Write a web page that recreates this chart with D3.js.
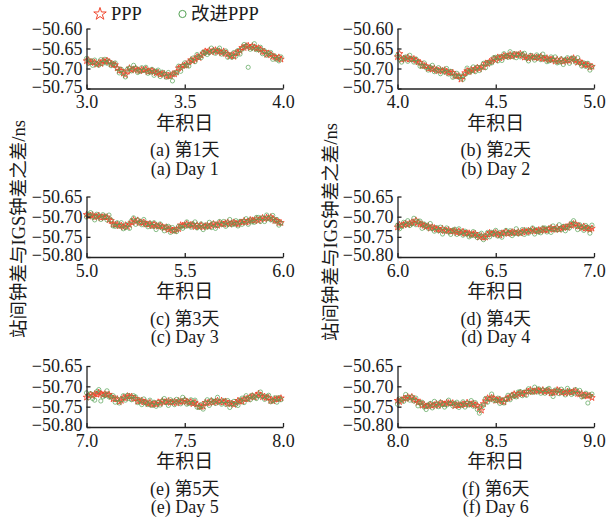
<!DOCTYPE html>
<html>
<head>
<meta charset="utf-8">
<script src="https://cdn.jsdelivr.net/npm/d3@7"></script>
<style>
  html, body { margin: 0; padding: 0; background: #ffffff; }
  svg { display: block; }
  text { font-family: "Liberation Serif", "Times New Roman", "Noto Sans CJK SC", serif; fill: #1a1a1a; }
</style>
</head>
<body>
<svg id="chart" width="607" height="522"></svg>
<script>
// Day-of-year start of each panel and panel captions
const dayStarts = [3, 4, 5, 6, 7, 8];
const captionsZh = ["(a) 第1天", "(b) 第2天", "(c) 第3天", "(d) 第4天", "(e) 第5天", "(f) 第6天"];
const captionsEn = ["(a) Day 1", "(b) Day 2", "(c) Day 3", "(d) Day 4", "(e) Day 5", "(f) Day 6"];
const xTickOffsets = [0, 0.5, 1];
const yTicksFirstRow = [-50.60, -50.65, -50.70, -50.75];
const yTicksOtherRows = [-50.65, -50.70, -50.75, -50.80];
const seriesNames = ["PPP", "改进PPP"];
const xAxisTitle = "年积日";
const yAxisTitle = "站间钟差与IGS钟差之差/ns";
const epochsPerDay = 96; // 15-minute epochs

// Clock-difference residuals (ns), one value per epoch
const pppDay1 = [-50.681,-50.679,-50.685,-50.684,-50.685,-50.690,-50.686,-50.688,-50.681,-50.683,-50.680,-50.683,
  -50.689,-50.690,-50.691,-50.699,-50.705,-50.705,-50.712,-50.716,-50.707,-50.699,-50.704,-50.702,
  -50.700,-50.704,-50.706,-50.703,-50.704,-50.702,-50.708,-50.707,-50.705,-50.708,-50.711,-50.710,
  -50.715,-50.713,-50.713,-50.719,-50.718,-50.719,-50.714,-50.714,-50.709,-50.699,-50.698,-50.693,
  -50.692,-50.691,-50.684,-50.679,-50.681,-50.677,-50.671,-50.673,-50.667,-50.662,-50.657,-50.659,
  -50.655,-50.659,-50.655,-50.654,-50.658,-50.657,-50.661,-50.657,-50.663,-50.664,-50.669,-50.667,
  -50.670,-50.661,-50.660,-50.655,-50.648,-50.648,-50.644,-50.643,-50.648,-50.644,-50.647,-50.650,
  -50.649,-50.653,-50.658,-50.658,-50.665,-50.662,-50.666,-50.670,-50.671,-50.675,-50.672,-50.677];
const improvedDay1 = [-50.675,-50.687,-50.681,-50.692,-50.679,-50.688,-50.692,-50.678,-50.687,-50.677,-50.687,-50.683,
  -50.693,-50.688,-50.686,-50.700,-50.711,-50.702,-50.712,-50.721,-50.702,-50.699,-50.706,-50.692,
  -50.699,-50.710,-50.707,-50.698,-50.705,-50.697,-50.712,-50.709,-50.702,-50.717,-50.707,-50.704,
  -50.720,-50.709,-50.714,-50.722,-50.710,-50.720,-50.731,-50.711,-50.711,-50.694,-50.707,-50.695,
  -50.686,-50.692,-50.694,-50.680,-50.674,-50.683,-50.665,-50.671,-50.673,-50.659,-50.661,-50.665,
  -50.660,-50.649,-50.657,-50.662,-50.654,-50.649,-50.664,-50.660,-50.656,-50.672,-50.666,-50.672,
  -50.660,-50.669,-50.655,-50.664,-50.652,-50.640,-50.644,-50.697,-50.652,-50.649,-50.638,-50.653,
  -50.653,-50.647,-50.663,-50.656,-50.667,-50.663,-50.660,-50.677,-50.669,-50.677,-50.681,-50.671];

const pppDay2 = [-50.671,-50.663,-50.678,-50.675,-50.676,-50.672,-50.677,-50.677,-50.676,-50.680,-50.684,-50.685,
  -50.693,-50.693,-50.694,-50.700,-50.699,-50.702,-50.700,-50.704,-50.706,-50.704,-50.706,-50.704,
  -50.708,-50.711,-50.710,-50.710,-50.718,-50.719,-50.719,-50.727,-50.720,-50.711,-50.706,-50.708,
  -50.703,-50.705,-50.701,-50.698,-50.701,-50.696,-50.696,-50.687,-50.688,-50.683,-50.682,-50.676,
  -50.679,-50.672,-50.674,-50.672,-50.668,-50.670,-50.669,-50.666,-50.670,-50.665,-50.666,-50.666,
  -50.663,-50.667,-50.672,-50.671,-50.675,-50.670,-50.671,-50.673,-50.672,-50.674,-50.670,-50.675,
  -50.676,-50.674,-50.679,-50.677,-50.677,-50.682,-50.678,-50.682,-50.678,-50.683,-50.680,-50.679,
  -50.681,-50.677,-50.674,-50.680,-50.685,-50.682,-50.687,-50.691,-50.690,-50.691,-50.697,-50.695];
const improvedDay2 = [-50.667,-50.677,-50.684,-50.674,-50.671,-50.682,-50.667,-50.677,-50.684,-50.676,-50.684,-50.694,
  -50.694,-50.686,-50.698,-50.704,-50.697,-50.692,-50.708,-50.704,-50.698,-50.713,-50.704,-50.709,
  -50.700,-50.714,-50.707,-50.722,-50.718,-50.712,-50.722,-50.719,-50.727,-50.715,-50.699,-50.710,
  -50.706,-50.696,-50.708,-50.697,-50.705,-50.696,-50.687,-50.698,-50.685,-50.687,-50.686,-50.673,
  -50.672,-50.681,-50.671,-50.680,-50.663,-50.669,-50.672,-50.658,-50.670,-50.663,-50.673,-50.664,
  -50.671,-50.664,-50.662,-50.674,-50.681,-50.667,-50.672,-50.679,-50.666,-50.670,-50.678,-50.664,
  -50.672,-50.683,-50.681,-50.671,-50.679,-50.671,-50.686,-50.684,-50.676,-50.690,-50.678,-50.673,
  -50.687,-50.674,-50.676,-50.684,-50.673,-50.686,-50.694,-50.686,-50.695,-50.687,-50.704,-50.695];

const pppDay3 = [-50.695,-50.699,-50.697,-50.696,-50.701,-50.700,-50.697,-50.703,-50.701,-50.701,-50.701,-50.708,
  -50.710,-50.719,-50.720,-50.719,-50.723,-50.722,-50.726,-50.721,-50.725,-50.720,-50.714,-50.708,
  -50.713,-50.709,-50.715,-50.715,-50.714,-50.719,-50.719,-50.718,-50.723,-50.719,-50.722,-50.724,
  -50.722,-50.725,-50.728,-50.726,-50.732,-50.730,-50.734,-50.735,-50.731,-50.730,-50.721,-50.722,
  -50.721,-50.718,-50.722,-50.720,-50.720,-50.725,-50.721,-50.725,-50.721,-50.726,-50.723,-50.722,
  -50.724,-50.721,-50.718,-50.721,-50.722,-50.716,-50.718,-50.719,-50.716,-50.714,-50.719,-50.716,
  -50.714,-50.717,-50.719,-50.714,-50.714,-50.710,-50.714,-50.712,-50.708,-50.709,-50.710,-50.706,
  -50.710,-50.706,-50.703,-50.706,-50.702,-50.704,-50.701,-50.706,-50.710,-50.710,-50.715,-50.715];
const improvedDay3 = [-50.701,-50.694,-50.690,-50.701,-50.708,-50.694,-50.699,-50.707,-50.695,-50.700,-50.708,-50.696,
  -50.708,-50.723,-50.724,-50.715,-50.723,-50.715,-50.730,-50.727,-50.719,-50.729,-50.710,-50.703,
  -50.719,-50.708,-50.713,-50.720,-50.707,-50.719,-50.725,-50.716,-50.724,-50.715,-50.732,-50.723,
  -50.718,-50.728,-50.735,-50.725,-50.724,-50.739,-50.727,-50.735,-50.737,-50.724,-50.726,-50.729,
  -50.724,-50.713,-50.722,-50.726,-50.718,-50.713,-50.728,-50.724,-50.718,-50.732,-50.722,-50.726,
  -50.714,-50.727,-50.717,-50.729,-50.721,-50.712,-50.719,-50.712,-50.724,-50.719,-50.707,-50.720,
  -50.718,-50.710,-50.723,-50.712,-50.719,-50.712,-50.705,-50.719,-50.708,-50.713,-50.714,-50.702,
  -50.702,-50.712,-50.703,-50.712,-50.696,-50.704,-50.708,-50.697,-50.711,-50.707,-50.721,-50.716];

const pppDay4 = [-50.726,-50.720,-50.722,-50.720,-50.717,-50.720,-50.717,-50.714,-50.716,-50.709,-50.714,-50.719,
  -50.719,-50.722,-50.725,-50.723,-50.729,-50.726,-50.728,-50.731,-50.731,-50.734,-50.730,-50.735,
  -50.735,-50.733,-50.737,-50.736,-50.735,-50.740,-50.736,-50.740,-50.737,-50.742,-50.741,-50.741,
  -50.745,-50.743,-50.742,-50.747,-50.751,-50.748,-50.752,-50.751,-50.744,-50.740,-50.743,-50.741,
  -50.740,-50.744,-50.746,-50.741,-50.741,-50.737,-50.742,-50.741,-50.738,-50.739,-50.741,-50.738,
  -50.741,-50.738,-50.735,-50.738,-50.735,-50.736,-50.732,-50.735,-50.736,-50.733,-50.735,-50.731,
  -50.733,-50.734,-50.730,-50.728,-50.732,-50.731,-50.727,-50.732,-50.729,-50.727,-50.726,-50.727,
  -50.721,-50.722,-50.718,-50.718,-50.724,-50.724,-50.728,-50.724,-50.729,-50.729,-50.732,-50.729];
const improvedDay4 = [-50.721,-50.730,-50.725,-50.714,-50.720,-50.710,-50.722,-50.718,-50.704,-50.720,-50.712,-50.711,
  -50.729,-50.718,-50.722,-50.729,-50.717,-50.730,-50.736,-50.727,-50.735,-50.726,-50.743,-50.734,
  -50.728,-50.738,-50.744,-50.734,-50.731,-50.744,-50.730,-50.740,-50.746,-50.736,-50.743,-50.750,
  -50.747,-50.737,-50.747,-50.752,-50.745,-50.741,-50.757,-50.749,-50.739,-50.750,-50.739,-50.744,
  -50.734,-50.748,-50.739,-50.751,-50.743,-50.734,-50.741,-50.735,-50.747,-50.742,-50.730,-50.743,
  -50.740,-50.732,-50.744,-50.733,-50.741,-50.734,-50.728,-50.743,-50.732,-50.738,-50.740,-50.728,
  -50.728,-50.738,-50.729,-50.739,-50.723,-50.731,-50.733,-50.720,-50.732,-50.724,-50.735,-50.724,
  -50.728,-50.716,-50.710,-50.722,-50.732,-50.720,-50.726,-50.734,-50.722,-50.727,-50.741,-50.721];

const pppDay5 = [-50.727,-50.723,-50.720,-50.723,-50.719,-50.720,-50.715,-50.718,-50.721,-50.719,-50.721,-50.720,
  -50.725,-50.731,-50.731,-50.731,-50.738,-50.735,-50.728,-50.729,-50.724,-50.725,-50.725,-50.730,
  -50.730,-50.737,-50.736,-50.735,-50.739,-50.739,-50.743,-50.740,-50.745,-50.743,-50.744,-50.739,
  -50.742,-50.736,-50.739,-50.738,-50.736,-50.740,-50.739,-50.737,-50.741,-50.736,-50.738,-50.738,
  -50.734,-50.737,-50.740,-50.738,-50.743,-50.740,-50.744,-50.750,-50.750,-50.749,-50.740,-50.741,
  -50.740,-50.736,-50.740,-50.737,-50.735,-50.739,-50.735,-50.739,-50.737,-50.743,-50.742,-50.742,
  -50.745,-50.740,-50.735,-50.737,-50.737,-50.731,-50.731,-50.731,-50.726,-50.724,-50.727,-50.722,
  -50.718,-50.722,-50.726,-50.725,-50.728,-50.728,-50.735,-50.736,-50.732,-50.731,-50.731,-50.729];
const improvedDay5 = [-50.716,-50.728,-50.718,-50.730,-50.734,-50.713,-50.708,-50.736,-50.726,-50.723,-50.711,-50.726,
  -50.727,-50.723,-50.739,-50.731,-50.741,-50.733,-50.723,-50.734,-50.722,-50.730,-50.733,-50.723,
  -50.726,-50.740,-50.734,-50.745,-50.731,-50.741,-50.745,-50.734,-50.747,-50.739,-50.749,-50.740,
  -50.746,-50.736,-50.730,-50.740,-50.747,-50.733,-50.738,-50.745,-50.732,-50.736,-50.743,-50.727,
  -50.733,-50.744,-50.742,-50.733,-50.741,-50.734,-50.751,-50.752,-50.745,-50.756,-50.741,-50.733,
  -50.747,-50.734,-50.737,-50.742,-50.727,-50.738,-50.744,-50.735,-50.744,-50.735,-50.752,-50.743,
  -50.737,-50.744,-50.747,-50.734,-50.729,-50.740,-50.723,-50.730,-50.733,-50.722,-50.726,-50.730,
  -50.724,-50.714,-50.725,-50.732,-50.725,-50.722,-50.738,-50.735,-50.728,-50.739,-50.728,-50.733];

const pppDay6 = [-50.735,-50.738,-50.734,-50.730,-50.730,-50.726,-50.729,-50.726,-50.733,-50.735,-50.740,-50.739,
  -50.747,-50.745,-50.749,-50.748,-50.745,-50.748,-50.746,-50.743,-50.747,-50.741,-50.743,-50.744,
  -50.740,-50.741,-50.742,-50.741,-50.748,-50.746,-50.746,-50.746,-50.744,-50.745,-50.740,-50.744,
  -50.744,-50.742,-50.746,-50.748,-50.753,-50.759,-50.743,-50.736,-50.729,-50.731,-50.728,-50.729,
  -50.735,-50.734,-50.732,-50.737,-50.739,-50.731,-50.729,-50.727,-50.722,-50.719,-50.723,-50.719,
  -50.716,-50.718,-50.719,-50.713,-50.713,-50.709,-50.713,-50.712,-50.709,-50.710,-50.712,-50.709,
  -50.714,-50.711,-50.711,-50.717,-50.715,-50.715,-50.709,-50.711,-50.715,-50.714,-50.717,-50.713,
  -50.714,-50.715,-50.712,-50.711,-50.718,-50.719,-50.718,-50.724,-50.722,-50.723,-50.723,-50.728];
const improvedDay6 = [-50.744,-50.731,-50.733,-50.737,-50.720,-50.729,-50.734,-50.726,-50.736,-50.729,-50.748,-50.741,
  -50.739,-50.751,-50.757,-50.746,-50.742,-50.753,-50.737,-50.745,-50.750,-50.739,-50.745,-50.751,
  -50.746,-50.734,-50.742,-50.748,-50.742,-50.739,-50.752,-50.745,-50.738,-50.751,-50.742,-50.746,
  -50.735,-50.749,-50.740,-50.757,-50.766,-50.750,-50.746,-50.730,-50.739,-50.732,-50.719,-50.734,
  -50.735,-50.729,-50.742,-50.733,-50.741,-50.732,-50.722,-50.733,-50.721,-50.725,-50.726,-50.714,
  -50.713,-50.723,-50.714,-50.722,-50.706,-50.713,-50.715,-50.702,-50.714,-50.706,-50.717,-50.709,
  -50.717,-50.708,-50.705,-50.717,-50.725,-50.709,-50.712,-50.718,-50.707,-50.713,-50.721,-50.705,
  -50.711,-50.720,-50.717,-50.708,-50.717,-50.710,-50.726,-50.724,-50.717,-50.741,-50.723,-50.719];

const pppSeries = [pppDay1, pppDay2, pppDay3, pppDay4, pppDay5, pppDay6];
const improvedSeries = [improvedDay1, improvedDay2, improvedDay3, improvedDay4, improvedDay5, improvedDay6];

// Layout
const columns = [{ x0: 86.5, x1: 283 }, { x0: 397.5, x1: 594 }];
const rows = [{ top: 28.5, bottom: 88.5 }, { top: 196.5, bottom: 257 }, { top: 366, bottom: 427 }];
const pppColor = "#f0462d";
const improvedColor = "#55a255";
const axisColor = "#222222";
const tickFontSize = 18;

const svg = d3.select("#chart");
const star = d3.symbol().type(d3.symbolStar);

dayStarts.forEach((day, k) => {
  const col = columns[k % 2];
  const row = rows[Math.floor(k / 2)];
  const yTicks = k < 2 ? yTicksFirstRow : yTicksOtherRows;
  const yMin = d3.min(yTicks);

  const x = d3.scaleLinear().domain([day, day + 1]).range([col.x0, col.x1]);
  const y = d3.scaleLinear().domain(d3.extent(yTicks)).range([row.bottom, row.top]);

  const panel = svg.append("g");

  // Markers: PPP stars, then improved PPP hollow circles
  panel.append("g").selectAll("path")
    .data(pppSeries[k])
    .join("path")
    .attr("d", star.size(13)())
    .attr("transform", (v, i) => `translate(${x(day + i / epochsPerDay)},${y(v)})`)
    .attr("fill", "none")
    .attr("stroke", pppColor)
    .attr("stroke-width", 0.9);

  panel.append("g").selectAll("circle")
    .data(improvedSeries[k])
    .join("circle")
    .attr("cx", (v, i) => x(day + i / epochsPerDay))
    .attr("cy", v => y(v))
    .attr("r", 2.1)
    .attr("fill", "none")
    .attr("stroke", improvedColor)
    .attr("stroke-width", 0.7);

  // Axes with inward ticks
  const xAxis = panel.append("g")
    .attr("transform", `translate(0,${row.bottom})`)
    .call(d3.axisBottom(x)
      .tickValues(xTickOffsets.map(o => day + o))
      .tickFormat(d3.format(".1f"))
      .tickSizeInner(-4).tickSizeOuter(0).tickPadding(7));

  const yAxis = panel.append("g")
    .attr("transform", `translate(${col.x0},0)`)
    .call(d3.axisLeft(y)
      .tickValues(yTicks)
      .tickFormat(d3.format(".2f"))
      .tickSizeInner(-4).tickSizeOuter(0).tickPadding(4));

  // lowest value label sits slightly above its tick, clear of the x labels
  yAxis.selectAll(".tick text")
    .attr("dy", d => d === yMin ? "0.22em" : "0.32em");

  [xAxis, yAxis].forEach(a => {
    a.attr("font-family", null).attr("font-size", tickFontSize);
    a.select(".domain").attr("stroke", axisColor).attr("stroke-width", 1.3);
    a.selectAll(".tick line").attr("stroke", axisColor).attr("stroke-width", 1.3);
    a.selectAll(".tick text").attr("fill", "#1a1a1a");
  });

  const cx = (col.x0 + col.x1) / 2;
  panel.append("text")
    .attr("x", cx).attr("y", row.bottom + 34.5)
    .attr("text-anchor", "middle").attr("dominant-baseline", "central")
    .attr("font-size", 19)
    .text(xAxisTitle);
  panel.append("text")
    .attr("x", cx).attr("y", row.bottom + 61.5)
    .attr("text-anchor", "middle").attr("dominant-baseline", "central")
    .attr("font-size", 18)
    .text(captionsZh[k]);
  panel.append("text")
    .attr("x", cx).attr("y", row.bottom + 80)
    .attr("text-anchor", "middle").attr("dominant-baseline", "central")
    .attr("font-size", 18)
    .text(captionsEn[k]);
});

// Shared y-axis titles, one per column
[{ x: 18.5, y: 229 }, { x: 331, y: 232 }].forEach(p => {
  svg.append("text")
    .attr("transform", `translate(${p.x},${p.y}) rotate(-90)`)
    .attr("text-anchor", "middle").attr("dominant-baseline", "central")
    .attr("font-size", 18.5)
    .text(yAxisTitle);
});

// Legend
const legend = svg.append("g");
legend.append("path")
  .attr("d", star.size(48)())
  .attr("transform", "translate(100,14)")
  .attr("fill", "none").attr("stroke", pppColor).attr("stroke-width", 1);
legend.append("text")
  .attr("x", 111).attr("y", 14).attr("dominant-baseline", "central")
  .attr("font-size", 18.5).text(seriesNames[0]);
legend.append("circle")
  .attr("cx", 182.5).attr("cy", 14).attr("r", 3.6)
  .attr("fill", "none").attr("stroke", improvedColor).attr("stroke-width", 1);
legend.append("text")
  .attr("x", 191).attr("y", 14).attr("dominant-baseline", "central")
  .attr("font-size", 18.5).text(seriesNames[1]);
</script>
</body>
</html>
